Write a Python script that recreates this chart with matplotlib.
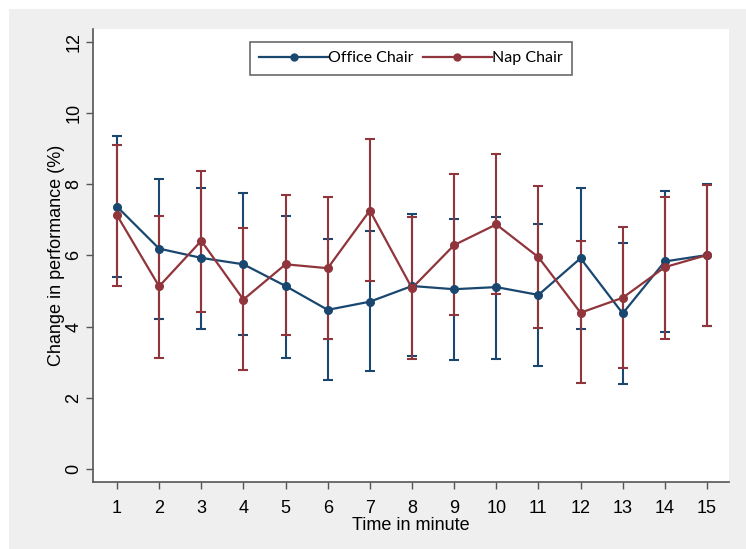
import numpy as np
import matplotlib
matplotlib.use("Agg")
import matplotlib.pyplot as plt
from matplotlib.patches import Rectangle

# minutes 1..15
minutes = list(range(1, 16))

# Office Chair: mean with upper / lower bounds
office_mean = [7.37, 6.19, 5.93, 5.75, 5.14, 4.47, 4.70, 5.14, 5.05, 5.11, 4.89, 5.92, 4.37, 5.83, 6.01]
office_hi = [9.34, 8.15, 7.90, 7.75, 7.10, 6.45, 6.69, 7.15, 7.03, 7.07, 6.87, 7.90, 6.36, 7.81, 8.01]
office_lo = [5.40, 4.21, 3.94, 3.76, 3.13, 2.50, 2.74, 3.18, 3.06, 3.10, 2.89, 3.94, 2.39, 3.84, 4.03]

# Nap Chair
nap_mean = [7.13, 5.13, 6.41, 4.76, 5.75, 5.64, 7.26, 5.08, 6.29, 6.87, 5.95, 4.39, 4.81, 5.67, 6.01]
nap_hi = [9.11, 7.10, 8.37, 6.77, 7.71, 7.64, 9.26, 7.08, 8.30, 8.84, 7.94, 6.40, 6.81, 7.64, 7.99]
nap_lo = [5.14, 3.13, 4.42, 2.79, 3.76, 3.65, 5.28, 3.08, 4.32, 4.91, 3.97, 2.42, 2.84, 3.66, 4.03]

blue = "#1a476f"
red = "#90353b"
axis_col = "#555555"

plt.rcParams["font.family"] = ["Liberation Sans", "DejaVu Sans"]

fig = plt.figure(figsize=(7.46, 5.49), dpi=100)
fig.patch.set_facecolor("white")
# light gray graph region
fig.patches.append(Rectangle((9 / 746, 0), 1, 1 - 9 / 549, transform=fig.transFigure,
                             facecolor="#efefef", edgecolor="none", zorder=-10))

ax = fig.add_axes([0.125, 0.1226, 0.8518, 0.8244])
ax.set_facecolor("white")


def draw(mean, lo, hi, col, label):
    mean = np.array(mean)
    err = [mean - np.array(lo), np.array(hi) - mean]
    ax.errorbar(minutes, mean, yerr=err, fmt="none", ecolor=col, elinewidth=1.5,
                capsize=3.5, capthick=1.5, zorder=2)
    ax.plot(minutes, mean, color=col, lw=1.6, marker="o", markersize=5.5,
            label=label, zorder=3)


draw(office_mean, office_lo, office_hi, blue, "Office Chair")
draw(nap_mean, nap_lo, nap_hi, red, "Nap Chair")

ax.set_xlim(0.437, 15.515)
ax.set_ylim(-0.356, 12.356)
ax.set_xticks(minutes)
ax.set_yticks(range(0, 13, 2))
ax.tick_params(axis="both", labelsize=13, length=5, width=1, color=axis_col)
ax.tick_params(axis="x", pad=8)
ax.tick_params(axis="y", pad=3)
for lab in ax.get_yticklabels():
    lab.set_rotation(90)
    lab.set_va("center")
for s in ["top", "right"]:
    ax.spines[s].set_visible(False)
for s in ["left", "bottom"]:
    ax.spines[s].set_color(axis_col)
    ax.spines[s].set_linewidth(1.2)

ax.set_xlabel("Time in minute", fontsize=13, labelpad=0)
ax.set_ylabel("Change in performance (%)", fontsize=13, labelpad=0)

leg = ax.legend(loc="upper center", bbox_to_anchor=(0.5, 0.99), ncol=2,
                frameon=True, fancybox=False, handlelength=4.3, handletextpad=0.0,
                columnspacing=0.6, borderpad=0.6,
                prop={"family": "Lato", "size": 11.5})
leg.get_frame().set_edgecolor("#444444")
leg.get_frame().set_linewidth(1.2)
for h in leg.legend_handles:
    h.set_markersize(5)

fig.savefig("out.png", dpi=100, facecolor=fig.get_facecolor())
